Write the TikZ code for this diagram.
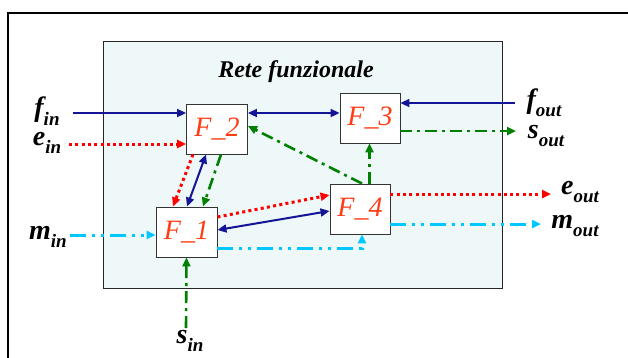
\documentclass[tikz,border=0pt]{standalone}
\usepackage{fontspec}
\setmainfont{Liberation Serif}
\usetikzlibrary{arrows.meta}
\definecolor{blu}{RGB}{20,20,150}
\definecolor{rd}{RGB}{255,0,0}
\definecolor{grn}{RGB}{0,128,0}
\definecolor{cya}{RGB}{0,200,255}
\definecolor{fred}{RGB}{255,60,20}
\definecolor{netfill}{RGB}{238,248,248}
\newcommand\mylab[2]{#1\raisebox{-0.3em}{\fontsize{19}{19}\selectfont #2}}
\begin{document}
\begin{tikzpicture}[x=1pt,y=-1pt,
  fbox/.style={draw=black!80,line width=0.9pt,fill=white,inner sep=0pt,minimum width=61pt,minimum height=50pt,font=\fontsize{28}{28}\selectfont\itshape,text=fred},
  lab/.style={font=\fontsize{28}{28}\selectfont\bfseries\itshape,inner sep=0pt},
  tip/.style={-{Triangle[length=9pt,width=8pt]}},
  dtip/.style={{Triangle[length=9pt,width=8pt]}-{Triangle[length=9pt,width=8pt]}},
  bl/.style={blu,line width=2pt},
  rdd/.style={rd,line width=3pt,dash pattern=on 3pt off 3.3pt},
  gd/.style={grn,line width=2.6pt,dash pattern=on 12pt off 5pt on 3pt off 5pt},
  cy/.style={cya,line width=3pt,dash pattern=on 16pt off 6pt on 3pt off 6pt on 3pt off 6pt}]
\clip (0,0) rectangle (628,357);
\fill[white] (0,0) rectangle (628,357);
\draw[line width=1.6pt] (8,13) rectangle (660,400);
\draw[draw=black!85,line width=0.9pt,fill=netfill] (103,41) rectangle (502,288);
\node[font=\fontsize{24}{24}\selectfont\bfseries\itshape] (title) at (296,72) {Rete funzionale};
% boxes
\node[fbox] (F2) at (217,129) {F\_2};
\node[fbox] (F1) at (186.5,232) {F\_1};
\node[fbox,minimum width=60pt] (F3) at (370,118) {F\_3};
\node[fbox,minimum width=60pt] (F4) at (360,209) {F\_4};
% labels
\node[lab] (fin) at (47,111) {\mylab{f}{in}};
\node[lab] (ein) at (47,143) {\mylab{e}{in}};
\node[lab] (min) at (48,237) {\mylab{m}{in}};
\node[lab] (sin) at (190,341) {\mylab{s}{in}};
\node[lab] (fout) at (544,103) {\mylab{f}{out}};
\node[lab] (sout) at (546,136) {\mylab{s}{out}};
\node[lab] (eout) at (580,192) {\mylab{e}{out}};
\node[lab] (mout) at (575,226) {\mylab{m}{out}};
% free ends
\coordinate (a1) at (73,113);
\coordinate (a2) at (69,144);
\coordinate (a3) at (70,235);
\coordinate (a4) at (186,328);
\coordinate (b1) at (515,103);
\coordinate (b2) at (516,131);
\coordinate (b3) at (551,194);
\coordinate (b4) at (541,224);
% inputs
\draw[bl,tip] (a1) -- (F2.west |- a1);
\draw[rdd,tip] (a2) -- (F2.west |- a2);
\draw[cy,tip] (a3) -- (F1.west |- a3);
\draw[gd,tip] (a4) -- (F1.south);
\draw[bl,tip] (b1) -- (F3.east |- b1);
% outputs
\draw[gd,tip] (F3.east |- b2) -- (b2);
\draw[rdd,tip] (F4.east |- b3) -- (b3);
\draw[cy,tip] (F4.east |- b4) -- (b4);
% internal
\draw[bl,dtip] (F2.east |- 0,113) -- (F3.west |- 0,113);
\draw[gd,tip] (F4.north -| 369.5,0) -- (F3.south -| 369.5,0);
\draw[gd,tip] (F4.north -| 362,0) -- (F2.east |- 0,126);
\draw[rdd,tip] (F2.south -| 193,0) -- (F1.north -| 173,0);
\draw[bl,dtip] (F2.south -| 206,0) -- (F1.north -| 187,0);
\draw[gd,tip] (F2.south -| 221,0) -- (F1.north -| 203,0);
\draw[rdd,tip] (F1.east |- 0,217) -- (F4.west |- 0,195);
\draw[bl,dtip] (F4.west |- 0,211) -- (F1.east |- 0,230);
\draw[cy,tip] (F1.east |- 0,248) -| (F4.south -| 362,0);
\end{tikzpicture}
\end{document}
